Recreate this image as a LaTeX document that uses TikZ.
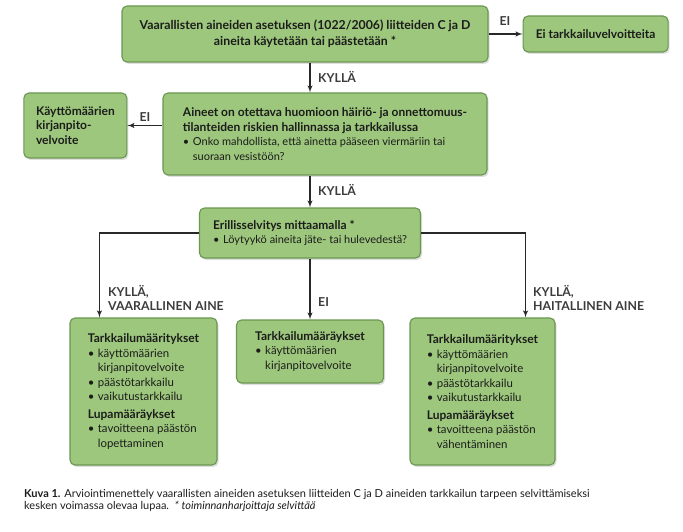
\documentclass[tikz,border=0pt]{standalone}
\usepackage{fontspec}
\setmainfont{Lato}
\usepackage{tikz}
\usetikzlibrary{arrows,shapes,positioning,shadows}
\definecolor{boxgreen}{RGB}{157,199,124}
\definecolor{boxedge}{RGB}{106,150,82}
\definecolor{linegray}{RGB}{40,40,40}
\definecolor{txtgray}{RGB}{28,28,28}
\definecolor{lblgray}{RGB}{60,60,60}
\tikzstyle{block} = [rectangle, draw=boxedge, fill=boxgreen, line width=1.1pt,
    rounded corners=5pt, inner sep=0pt, text=txtgray, align=left,
    font=\fontsize{11}{14.5}\selectfont,
    drop shadow={opacity=0.25, shadow xshift=1.5pt, shadow yshift=-2pt}]
\tikzstyle{result} = [block, font=\fontsize{11.4}{14.5}\selectfont]
\tikzstyle{line} = [draw=linegray, line width=1.4pt, -latex']
\tikzstyle{lbl} = [font=\fontsize{12.3}{14}\selectfont\bfseries, text=lblgray,
    align=left, inner sep=0pt]
\newcommand{\hd}[1]{{\fontsize{12}{14.5}\selectfont\bfseries #1}}
\newcommand{\bul}{\makebox[10pt][l]{\textbullet}}
\newcommand{\ind}{\hspace*{10pt}}

\begin{document}
\begin{tikzpicture}[x=1pt, y=-1pt]
\useasboundingbox (0,0) rectangle (683,532);
    % Place nodes
    \node [block, minimum width=366pt, minimum height=56pt, align=center,
        font=\fontsize{12.3}{16}\selectfont\bfseries] (q1) at (305,34)
        {Vaarallisten aineiden asetuksen (1022/2006) liitteiden C ja D\\
         aineita käytetään tai päästetään *};
    \node [block, right=34pt of q1, minimum width=145pt, minimum height=36pt,
        font=\fontsize{12}{14}\selectfont\bfseries] (eivelv) {Ei tarkkailuvelvoitteita};
    \node [block, minimum width=324pt, minimum height=82pt] (q2) at (325,134)
        {\hd{Aineet on otettava huomioon häiriö- ja onnettomuus-}\\
         \hd{tilanteiden riskien hallinnassa ja tarkkailussa}\\
         \bul Onko mahdollista, että ainetta pääseen viermäriin tai\\
         \ind suoraan vesistöön?};
    \node [block, anchor=north east, minimum width=103pt, minimum height=65pt,
        font=\fontsize{12}{14.5}\selectfont\bfseries]
        (kirjan) at ([xshift=-35pt]q2.north west)
        {Käyttömäärien\\kirjanpito-\\velvoite};
    \node [block, minimum width=221pt, minimum height=50pt] (q3) at (310,233)
        {\hd{Erillisselvitys mittaamalla *}\\
         \bul Löytyykö aineita jäte- tai hulevedestä?};
    \node [result, minimum width=147pt, minimum height=147pt] (vaar) at (143.5,391.5)
        {\hd{Tarkkailumääritykset}\\
         \bul käyttömäärien\\
         \ind kirjanpitovelvoite\\
         \bul päästötarkkailu\\
         \bul vaikutustarkkailu\\[3pt]
         \hd{Lupamääräykset}\\
         \bul tavoitteena päästön\\
         \ind lopettaminen};
    \node [result, minimum width=147pt, minimum height=63pt] (eiaine) at (310,351.5)
        {\hd{Tarkkailumääräykset}\\
         \bul käyttömäärien\\
         \ind kirjanpitovelvoite};
    \node [result, minimum width=145pt, minimum height=147pt] (hait) at (482.5,391.5)
        {\hd{Tarkkailumääritykset}\\
         \bul käyttömäärien\\
         \ind kirjanpitovelvoite\\
         \bul päästötarkkailu\\
         \bul vaikutustarkkailu\\[3pt]
         \hd{Lupamääräykset}\\
         \bul tavoitteena päästön\\
         \ind vähentäminen};

    % Labels
    \node [lbl] (eil1) at (505,21) {EI};
    \node [lbl, anchor=west] (kyl1) at (318,77) {KYLLÄ};
    \node [lbl] (eil2) at (145,117) {EI};
    \node [lbl, anchor=west] (kyl2) at (318,190) {KYLLÄ};
    \node [lbl, anchor=north west] (kylvaar) at (108,285) {KYLLÄ,\\VAARALLINEN AINE};
    \node [lbl, anchor=west] (eil3) at (318,302) {EI};
    \node [lbl, anchor=north west] (kylhait) at (533,285) {KYLLÄ,\\HAITALLINEN AINE};

    % Caption
    \node [anchor=north west, inner sep=0pt, align=left, text=txtgray,
        font=\fontsize{11}{12.5}\selectfont] (kuva) at (24,489)
        {\textbf{Kuva 1.} Arviointimenettely vaarallisten aineiden asetuksen liitteiden C ja D aineiden tarkkailun tarpeen selvittämiseksi\\
         kesken voimassa olevaa lupaa.\ \ \textit{* toiminnanharjoittaja selvittää}};

    % Draw edges
    \path [line] (q1.east) -- (eivelv.west);
    \path [line] (q1.south -| q3.north) -- (q2.north -| q3.north);
    \path [line] (q2.west |- kirjan.east) -- (kirjan.east);
    \path [line] (q2.south -| q3.north) -- (q3.north);
    \path [line] (q3.west) -| ([xshift=30pt]vaar.north west);
    \path [line] (q3.south) -- (eiaine.north);
    \path [line] (q3.east) -| ([xshift=-30pt]hait.north east);

\end{tikzpicture}
\end{document}
